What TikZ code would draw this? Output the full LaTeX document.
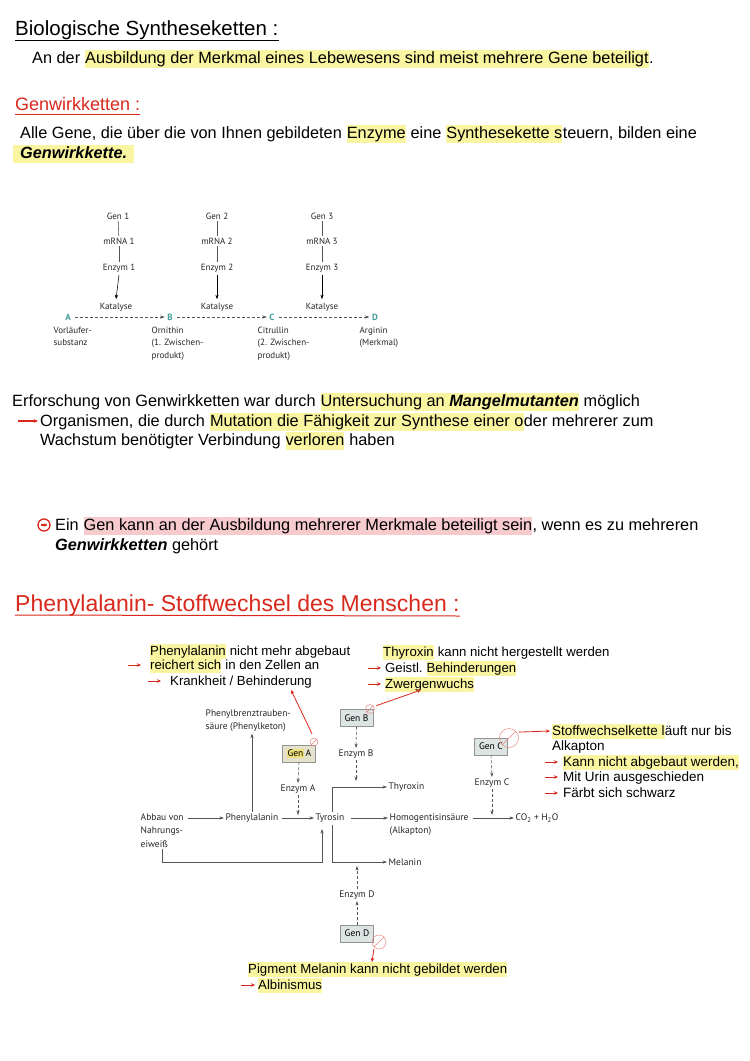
\documentclass[tikz,border=0pt]{standalone}
\usepackage{fontspec}
\setmainfont{Liberation Sans}
\newfontfamily\diagfont{PT Sans}
\usetikzlibrary{arrows.meta,calc}
\definecolor{hly}{HTML}{FAF5A0}
\definecolor{hlyd}{HTML}{EDE07A}
\definecolor{hlp}{HTML}{F7CBCE}
\definecolor{redpen}{HTML}{D8291C}
\definecolor{abcteal}{HTML}{3E9C9A}
\definecolor{dline}{HTML}{555555}
\definecolor{genbox}{HTML}{DDE5E4}
\definecolor{genboxa}{HTML}{E4E2CC}
\newcommand\bodyfont{\fontsize{16.3}{19}\selectfont}
\newcommand\annfont{\fontsize{13.2}{15}\selectfont}
\newcommand\annbfont{\fontsize{13.5}{15}\selectfont}
\newcommand\dgfont{\diagfont\fontsize{9.5}{13.4}\selectfont}
\newcommand\chfont{\diagfont\fontsize{9}{12.5}\selectfont}
\newcommand\wsp{\ \mbox{}}
\begin{document}
\begin{tikzpicture}[x=1pt,y=-1pt,
  tx/.style={anchor=base west,inner sep=0pt,font=\bodyfont},
  hy/.style={tx,fill=hly,inner ysep=1.5pt,text height=11.3pt,text depth=3.3pt},
  hp/.style={tx,fill=hlp,inner ysep=1.5pt,text height=11.3pt,text depth=3.3pt},
  an/.style={anchor=base west,inner sep=0pt,font=\annfont},
  ahy/.style={an,fill=hly,inner ysep=1.5pt,text height=9.3pt,text depth=2.7pt},
  bn/.style={anchor=base west,inner sep=0pt,font=\annbfont},
  bhy/.style={bn,fill=hly,inner ysep=1.5pt,text height=9.5pt,text depth=2.8pt},
  ttl/.style={anchor=base west,inner sep=0pt},
  lab/.style={font=\dgfont,inner sep=1.5pt,text=black!85},
  chl/.style={font=\chfont,inner sep=1.5pt,text=black!85},
  dl/.style={draw=dline,line width=0.55pt},
  arr/.style={dl,-{Stealth[length=4.5pt,width=3.2pt]}},
  dsh/.style={arr,densely dashed},
  rarr/.style={draw=redpen,line width=0.8pt,-{Stealth[length=4pt,width=3.5pt]}},
  genbx/.style={draw=gray!85,fill=genbox,line width=0.7pt,minimum width=33pt,minimum height=17pt,inner sep=0pt,font=\diagfont\fontsize{9.5}{10}\selectfont},
  nogo/.style={draw=redpen!55,line width=0.5pt,circle,inner sep=0pt}
]
\useasboundingbox[fill=white] (0,0) rectangle (750,1061);

% ---------- Title 1 ----------
\node[ttl,font=\fontsize{20.5}{22}\selectfont] (t1) at (15,35) {Biologische Syntheseketten :};
\draw[line width=1pt] ([yshift=-5pt]t1.base west) -- ([yshift=-5pt]t1.base east);
\node[tx] (a1) at (32,63) {An der\wsp};
\node[hy] (a2) at (a1.base east) {Ausbildung der Merkmal eines Lebewesens sind meist mehrere Gene beteiligt};
\node[tx] (a3) at (a2.base east) {.};

% ---------- Title 2 ----------
\node[ttl,font=\fontsize{18}{20}\selectfont,text=redpen] (t2) at (15,110) {Genwirkketten :};
\draw[redpen,line width=0.9pt] ([yshift=-4pt]t2.base west) -- ([yshift=-4pt]t2.base east);
\node[tx] (b1) at (20,138) {Alle Gene, die über die von Ihnen gebildeten\wsp};
\node[hy] (b2) at (b1.base east) {Enzyme};
\node[tx] (b3) at (b2.base east) {\ eine\wsp};
\node[hy] (b4) at (b3.base east) {Synthesekette s};
\node[tx] (b5) at (b4.base east) {teuern, bilden eine};
\node[hy,inner xsep=7pt] (c1) at (13,158) {\textbf{\textit{Genwirkkette.}}};

% ---------- Gene chain ----------
\node[chl] (gen1) at (118,216) {Gen 1};
\node[chl] (mr1) at (119,241) {mRNA 1};
\node[chl] (en1) at (119,268) {Enzym 1};
\node[chl] (kat1) at (116,307) {Katalyse};
\node[chl] (gen2) at (217,216) {Gen 2};
\node[chl] (mr2) at (217,241) {mRNA 2};
\node[chl] (en2) at (217,268) {Enzym 2};
\node[chl] (kat2) at (217,307) {Katalyse};
\node[chl] (gen3) at (322,216) {Gen 3};
\node[chl] (mr3) at (322,241) {mRNA 3};
\node[chl] (en3) at (322,268) {Enzym 3};
\node[chl] (kat3) at (322,307) {Katalyse};
\foreach \i in {1,2,3}{
  \draw[dl] (gen\i) -- (mr\i);
  \draw[dl] (mr\i) -- (en\i);
  \draw[arr,draw=black] ([yshift=-1pt]en\i.south) -- ([yshift=2pt]kat\i.north);
}
\node[chl,text=abcteal,font=\chfont\bfseries] (sA) at (68,317) {A};
\node[chl,text=abcteal,font=\chfont\bfseries] (sB) at (170,317) {B};
\node[chl,text=abcteal,font=\chfont\bfseries] (sC) at (272,317) {C};
\node[chl,text=abcteal,font=\chfont\bfseries] (sD) at (375,317) {D};
\draw[dsh] ([xshift=3pt]sA.east) -- ([xshift=-1pt]sB.west);
\draw[dsh] ([xshift=3pt]sB.east) -- ([xshift=-1pt]sC.west);
\draw[dsh] ([xshift=3pt]sC.east) -- ([xshift=-1pt]sD.west);
\node[chl,anchor=north west,align=left] (lA) at (52,325) {Vorläufer-\\substanz};
\node[chl,anchor=north west,align=left] (lB) at (150,325) {Ornithin\\(1. Zwischen-\\produkt)};
\node[chl,anchor=north west,align=left] (lC) at (256,325) {Citrullin\\(2. Zwischen-\\produkt)};
\node[chl,anchor=north west,align=left] (lD) at (358,325) {Arginin\\(Merkmal)};

% ---------- Section 2 ----------
\node[tx] (d1) at (12,406) {Erforschung von Genwirkketten war durch\wsp};
\node[hy] (d2) at (d1.base east) {Untersuchung an \textbf{\textit{Mangelmutanten}}};
\node[tx] (d3) at (d2.base east) {\ möglich};
\node[tx] (e1) at (40,426) {Organismen, die durch\wsp};
\node[hy] (e2) at (e1.base east) {Mutation die Fähigkeit zur Synthese einer o};
\node[tx] (e3) at (e2.base east) {der mehrerer zum};
\coordinate (e0) at ($(e1.base west)+(-22,-5)$);
\draw[rarr,line width=1.3pt] (e0) -- ($(e1.base west)+(-2,-5)$);
\node[tx] (f1) at (40,445) {Wachstum benötigter Verbindung\wsp};
\node[hy] (f2) at (f1.base east) {verloren};
\node[tx] (f3) at (f2.base east) {\ haben};

% ---------- Section 3 ----------
\node[tx] (h1) at (55,530) {Ein\wsp};
\node[hp] (h2) at (h1.base east) {Gen kann an der Ausbildung mehrerer Merkmale beteiligt sein};
\node[tx] (h3) at (h2.base east) {, wenn es zu mehreren};
\node[tx] (i1) at (55,550) {\textbf{\textit{Genwirkketten}} gehört};
\node[circle,draw=redpen,line width=1.3pt,minimum size=12pt,inner sep=0pt] (icon) at (44,525) {};
\draw[redpen,line width=1.1pt,-{Stealth[length=3pt,width=3.5pt]}] ($(icon.center)+(-3,0)$) -- ($(icon.center)+(3.4,0)$);

% ---------- Title 3 ----------
\node[ttl,font=\fontsize{23}{25}\selectfont,text=redpen] (t3) at (15,611) {Phenylalanin- Stoffwechsel des Menschen :};
\draw[redpen,line width=1pt] ([yshift=-4pt]t3.base west) -- ([yshift=-5pt]t3.base east);

% ---------- annotations top ----------
\node[ahy] (p1) at (150,655) {Phenylalanin};
\node[an] (p2) at (p1.base east) {\ nicht mehr abgebaut};
\node[ahy] (p3) at (150,669) {reichert sich};
\node[an] (p4) at (p3.base east) {\ in den Zellen an};
\node[an] (p5) at (170,685) {Krankheit / Behinderung};
\draw[rarr] ($(p3.base west)+(-22,-4)$) -- ($(p3.base west)+(-9,-4)$);
\draw[rarr] ($(p5.base west)+(-22,-4)$) -- ($(p5.base west)+(-9,-4)$);

\node[ahy] (q1) at (383,656) {Thyroxin};
\node[an] (q2) at (q1.base east) {\ kann nicht hergestellt werden};
\node[an] (q3) at (385,672) {Geistl.\wsp};
\node[ahy] (q4) at (q3.base east) {Behinderungen};
\node[ahy] (q5) at (385,688) {Zwergenwuchs};
\draw[rarr] ($(q3.base west)+(-17,-4)$) -- ($(q3.base west)+(-4,-4)$);
\draw[rarr] ($(q5.base west)+(-17,-4)$) -- ($(q5.base west)+(-4,-4)$);

% ---------- right annotations ----------
\node[bhy] (s1) at (552,735) {Stoffwechselkette l};
\node[bn] (s2) at (s1.base east) {äuft nur bis};
\node[bn] (s3) at (552,750) {Alkapton};
\node[bhy] (s4) at (563,766) {Kann nicht abgebaut werden,};
\node[bn] (s5) at (563,781) {Mit Urin ausgeschieden};
\node[bn] (s6) at (563,797) {Färbt sich schwarz};
\foreach \n in {s4,s5,s6}{
  \draw[rarr] ($(\n.base west)+(-18,-4)$) -- ($(\n.base west)+(-5,-4)$);
}

% ---------- bottom annotations ----------
\node[ahy] (u1) at (248,973) {Pigment Melanin kann nicht gebildet werden};
\node[ahy] (u2) at (258,989) {Albinismus};
\draw[rarr] ($(u2.base west)+(-17,-4)$) -- ($(u2.base west)+(-3,-4)$);

% ---------- metabolic diagram ----------
\node[lab,anchor=north west,align=left] (pbs) at (204,708) {Phenylbrenztrauben-\\säure (Phenylketon)};
\node[lab,anchor=north west,align=left] (abbau) at (139,812) {Abbau von\\Nahrungs-\\eiweiß};
\node[lab] (phe) at (252,818) {Phenylalanin};
\node[lab] (tyr) at (330,818) {Tyrosin};
\node[lab,anchor=north west,align=left] (hgs) at (388,812) {Homogentisinsäure\\(Alkapton)};
\node[lab] (co2) at (537,818) {CO\textsubscript{2} + H\textsubscript{2}O};
\node[lab,anchor=west] (thy) at (387,787) {Thyroxin};
\node[lab,anchor=west] (mel) at (387,862) {Melanin};

\node[genbx,fill=genboxa] (genA) at (299,753.5) {\setlength\fboxsep{0.6pt}\colorbox{hlyd}{Gen}\,A};
\node[lab] (enzA) at (298,789) {Enzym A};
\node[genbx] (genB) at (356.5,718) {Gen B};
\node[lab] (enzB) at (356,754) {Enzym B};
\node[genbx] (genC) at (491,746.5) {Gen C};
\node[lab] (enzC) at (492,783) {Enzym C};
\node[genbx] (genD) at (357,933.5) {Gen D};
\node[lab] (enzD) at (357,895) {Enzym D};

% main row arrows
\draw[arr] ([xshift=3pt]abbau.east |- phe.west) -- (phe.west);
\draw[arr] ([xshift=2pt]phe.east) -- (tyr.west);
\draw[arr] ([xshift=5pt]tyr.east) -- (hgs.west |- tyr.east);
\draw[arr] ([xshift=3pt]hgs.east |- co2.west) -- (co2.west);
\draw[arr] (phe.north) -- (phe.north |- pbs.south);
% Thyroxin / Melanin branches
\coordinate (tyrN) at ($(tyr.north)+(2,0)$);
\coordinate (tyrS) at ($(tyr.south)+(2,1)$);
\draw[arr] (tyrN) -- (tyrN |- thy.west) -- (thy.west);
\draw[arr] (tyrS) -- (tyrS |- mel.west) -- (mel.west);
% feedback from Nahrungseiweiss
\coordinate (fbA) at ($(abbau.south west)+(23,0)$);
\coordinate (fbB) at (322,862);
\coordinate (fbC) at ($(tyr.south)+(-8,5)$);
\draw[arr] (fbA) -- (fbA |- fbB) -- (fbB) -- (fbC);
% enzyme arrows
\coordinate (catA) at (298,815);
\coordinate (catB) at (356,781);
\coordinate (catC) at (492,815);
\coordinate (catD) at (357,866);
\draw[dsh] (genA.south) -- (enzA.north);
\draw[dsh] (enzA.south) -- (catA);
\draw[dsh] (genB.south) -- (enzB.north);
\draw[dsh] (enzB.south) -- (catB);
\draw[dsh] (genC.south) -- (enzC.north);
\draw[dsh] (enzC.south) -- (catC);
\draw[dsh] (genD.north) -- (enzD.south);
\draw[dsh] (enzD.north) -- (catD);

% blocked-gene marks
\node[nogo,minimum size=8pt] (xA) at (314,742) {};
\draw[redpen!55,line width=0.5pt] (xA.south west) -- (xA.north east);
\node[nogo,minimum size=9pt] (xB) at (370,709) {};
\draw[redpen!55,line width=0.5pt] (xB.south west) -- (xB.north east);
\node[nogo,minimum size=19pt] (xC) at (509,738) {};
\draw[redpen!55,line width=0.5pt] (xC.south west) -- (xC.north east);
\node[nogo,minimum size=14pt] (xD) at (379,942) {};
\draw[redpen!55,line width=0.5pt] (xD.south west) -- (xD.north east);

% red pointers
\coordinate (pA) at (291,690);
\coordinate (pB) at (421,690);
\coordinate (pD) at (372,962);
\draw[rarr] (xA.north) ++(-2,-4) -- (pA);
\draw[rarr] (xB.north east) ++(3,0) -- (pB);
\draw[rarr] (xC.north east) ++(3,1) -- ($(s1.base west)+(-2,-4)$);
\draw[rarr] (xD.south west) ++(0,2) -- (pD);
\end{tikzpicture}
\end{document}
